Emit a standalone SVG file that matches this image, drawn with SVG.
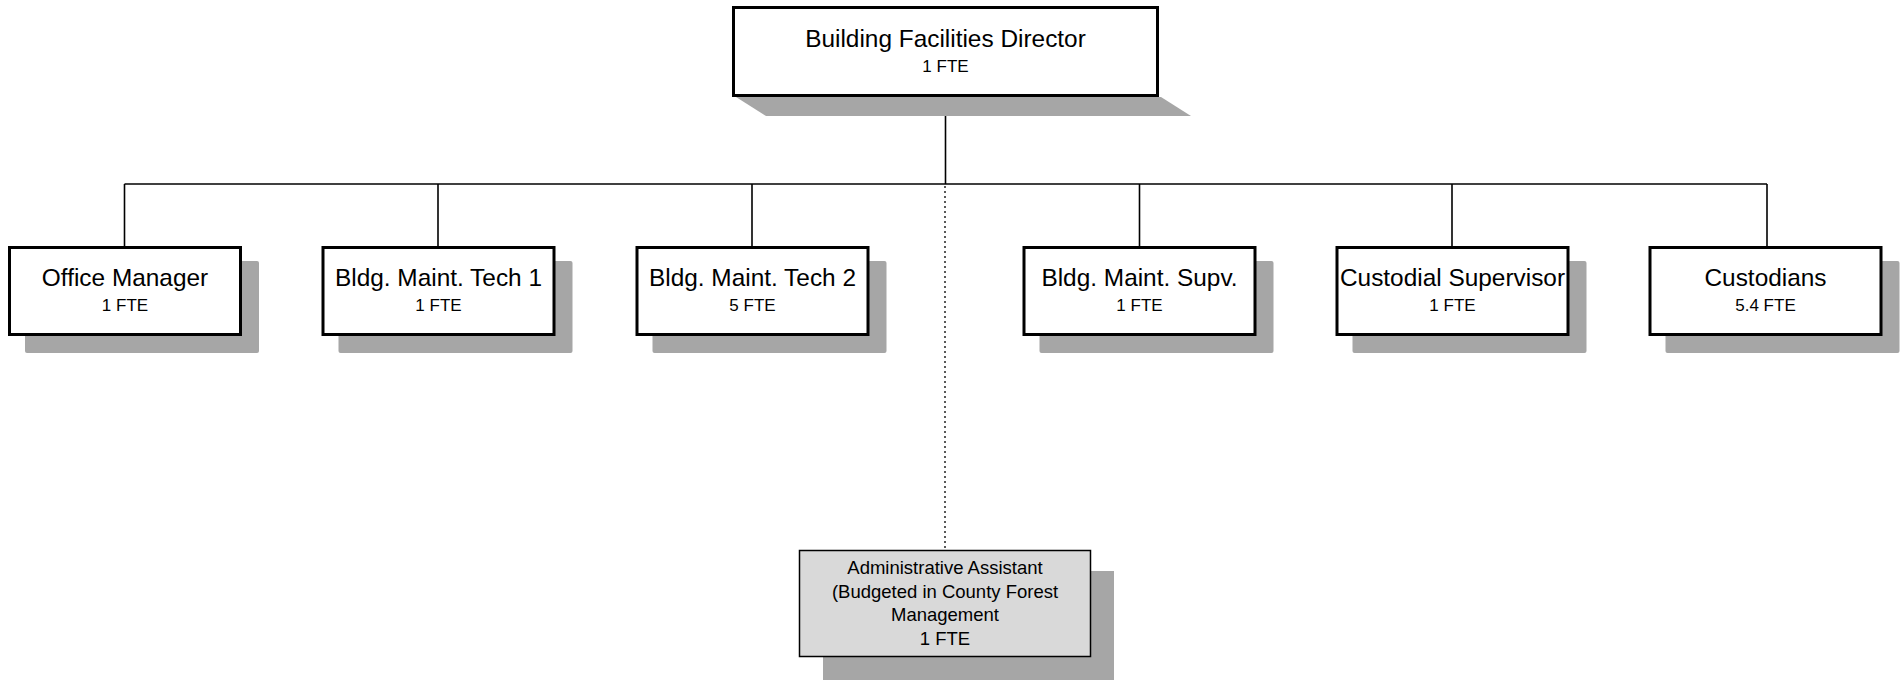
<svg xmlns="http://www.w3.org/2000/svg" width="1900" height="680" viewBox="0 0 1900 680">
<style>
.box{fill:#ffffff;stroke:#000000;stroke-width:3}
.abox{fill:#d9d9d9;stroke:#000000;stroke-width:1.5}
.sh{fill:#a6a6a6}
.t{font-family:"Liberation Sans",Arial,sans-serif;font-size:24.4px;fill:#000;text-anchor:middle}
.f{font-family:"Liberation Sans",Arial,sans-serif;font-size:17px;fill:#000;text-anchor:middle}
.a{font-family:"Liberation Sans",Arial,sans-serif;font-size:18.5px;fill:#000;text-anchor:middle}
.ln{stroke:#000;stroke-width:1.6;fill:none}
.dot{stroke:#000;stroke-width:1.3;fill:none;stroke-dasharray:2 3}
</style>
<rect width="1900" height="680" fill="#ffffff"/>
<g id="connectors">
<line class="ln" x1="945.5" y1="97" x2="945.5" y2="184"/>
<line class="ln" x1="124.5" y1="184" x2="1767" y2="184"/>
<line class="ln" x1="124.5" y1="184" x2="124.5" y2="246"/>
<line class="ln" x1="438" y1="184" x2="438" y2="246"/>
<line class="ln" x1="752" y1="184" x2="752" y2="246"/>
<line class="ln" x1="1139.5" y1="184" x2="1139.5" y2="246"/>
<line class="ln" x1="1452" y1="184" x2="1452" y2="246"/>
<line class="ln" x1="1767" y1="184" x2="1767" y2="246"/>
<line class="dot" x1="945" y1="186" x2="945" y2="550"/>
</g>
<g id="director">
<polygon class="sh" points="736,97 766,116 1191,116 1161,97"/>
<rect class="box" x="733.5" y="7.5" width="424" height="88"/>
<text class="t" x="945.5" y="47">Building Facilities Director</text>
<text class="f" x="945.5" y="72">1 FTE</text>
</g>
<g id="office-manager">
<rect class="sh" x="25" y="261" width="234" height="92" rx="2"/>
<rect class="box" x="9.5" y="247.5" width="231" height="87"/>
<text class="t" x="125" y="286">Office Manager</text>
<text class="f" x="125" y="311">1 FTE</text>
</g>
<g id="tech1">
<rect class="sh" x="338.5" y="261" width="234" height="92" rx="2"/>
<rect class="box" x="323" y="247.5" width="231" height="87"/>
<text class="t" x="438.5" y="286">Bldg. Maint. Tech 1</text>
<text class="f" x="438.5" y="311">1 FTE</text>
</g>
<g id="tech2">
<rect class="sh" x="652.5" y="261" width="234" height="92" rx="2"/>
<rect class="box" x="637" y="247.5" width="231" height="87"/>
<text class="t" x="752.5" y="286">Bldg. Maint. Tech 2</text>
<text class="f" x="752.5" y="311">5 FTE</text>
</g>
<g id="supv">
<rect class="sh" x="1039.5" y="261" width="234" height="92" rx="2"/>
<rect class="box" x="1024" y="247.5" width="231" height="87"/>
<text class="t" x="1139.5" y="286">Bldg. Maint. Supv.</text>
<text class="f" x="1139.5" y="311">1 FTE</text>
</g>
<g id="custodial-supervisor">
<rect class="sh" x="1352.5" y="261" width="234" height="92" rx="2"/>
<rect class="box" x="1337" y="247.5" width="231" height="87"/>
<text class="t" x="1452.5" y="286">Custodial Supervisor</text>
<text class="f" x="1452.5" y="311">1 FTE</text>
</g>
<g id="custodians">
<rect class="sh" x="1665.5" y="261" width="234" height="92" rx="2"/>
<rect class="box" x="1650" y="247.5" width="231" height="87"/>
<text class="t" x="1765.5" y="286">Custodians</text>
<text class="f" x="1765.5" y="311">5.4 FTE</text>
</g>
<g id="admin-assistant">
<rect class="sh" x="823" y="571" width="291" height="120"/>
<rect class="abox" x="799.5" y="550.5" width="291" height="106"/>
<text class="a" x="945" y="574">Administrative Assistant</text>
<text class="a" x="945" y="597.5">(Budgeted in County Forest</text>
<text class="a" x="945" y="621">Management</text>
<text class="a" x="945" y="644.5">1 FTE</text>
</g>
</svg>
